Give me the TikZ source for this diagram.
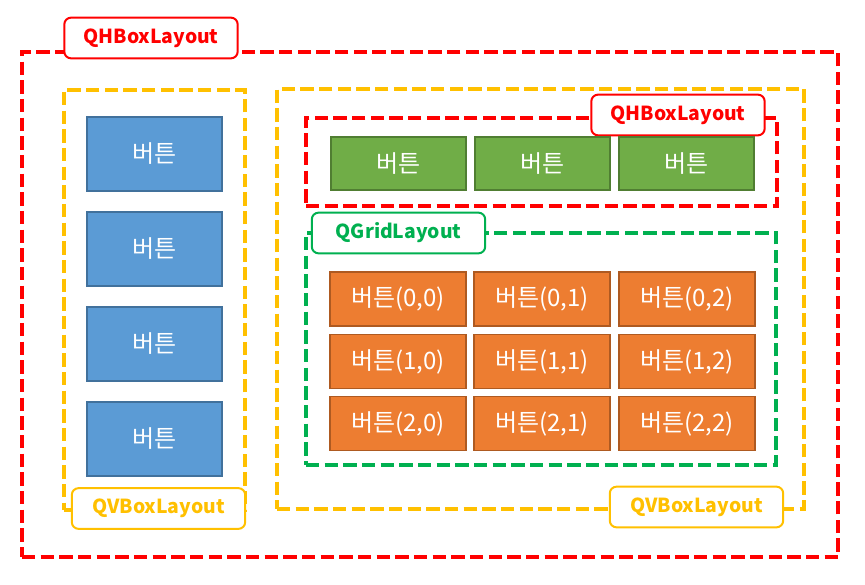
\documentclass[tikz,border=0pt]{standalone}
\usepackage{fontspec}
\setmainfont{Noto Sans CJK KR}
\begin{document}
\begin{tikzpicture}[x=0.75pt,y=-0.75pt,
  dashbox/.style={draw, line width=3.3pt, dash pattern=on 10pt off 4pt, inner sep=0pt},
  lbl/.style={draw, fill=white, line width=1.5pt, rounded corners=5pt, inner sep=0pt,
     minimum width=130pt, minimum height=30.5pt, font=\fontsize{14.5pt}{16pt}\selectfont\bfseries},
  btn/.style={draw, line width=1.2pt, inner sep=0pt, text=white, font=\fontsize{18pt}{20pt}\selectfont},
  bluebtn/.style={btn, fill=qblue, draw=qblueb, minimum width=101.25pt, minimum height=55.5pt},
  greenbtn/.style={btn, fill=qgreen, draw=qgreenb, minimum width=101.25pt, minimum height=39.75pt},
  orangebtn/.style={btn, fill=qorange, draw=qorangeb, minimum width=102pt, minimum height=40.5pt}]
\definecolor{qblue}{HTML}{5B9BD5}
\definecolor{qblueb}{HTML}{41719C}
\definecolor{qgreen}{HTML}{70AD47}
\definecolor{qgreenb}{HTML}{507E32}
\definecolor{qorange}{HTML}{ED7D31}
\definecolor{qorangeb}{HTML}{AE5A21}
\definecolor{qred}{HTML}{FF0000}
\definecolor{qyellow}{HTML}{FFC000}
\definecolor{qgreenl}{HTML}{00B050}
\useasboundingbox (0,0) rectangle (865,585);
% dashed layout frames
\node[dashbox, draw=qred, minimum width=612pt, minimum height=378.75pt] (outer) at (430,304.5) {};
\node[dashbox, draw=qyellow, minimum width=135.75pt, minimum height=315pt] (leftv) at (154.5,300) {};
\node[dashbox, draw=qyellow, minimum width=395.25pt, minimum height=315pt] (rightv) at (540.5,299) {};
\node[dashbox, draw=qred, minimum width=353.25pt, minimum height=66pt] (innerh) at (541.5,162) {};
\node[dashbox, draw=qgreenl, minimum width=352.5pt, minimum height=174pt] (grid) at (541,349) {};
% labels
\node[lbl, draw=qred, text=qred] (louter) at (151,38) {QHBoxLayout};
\node[lbl, draw=qyellow, text=qyellow] (lleftv) at (158.5,508.5) {QVBoxLayout};
\node[lbl, draw=qyellow, text=qyellow] (lrightv) at (696.5,507) {QVBoxLayout};
\node[lbl, draw=qred, text=qred] (linnerh) at (678,115) {QHBoxLayout};
\node[lbl, draw=qgreenl, text=qgreenl] (lgrid) at (398.5,233) {QGridLayout};
% blue buttons
\node[bluebtn] (b1) at (154.5,154) {버튼};
\node[bluebtn] (b2) at (154.5,249) {버튼};
\node[bluebtn] (b3) at (154.5,344) {버튼};
\node[bluebtn] (b4) at (154.5,439) {버튼};
% green buttons
\node[greenbtn] (g1) at (398.5,163.5) {버튼};
\node[greenbtn] (g2) at (542.5,163.5) {버튼};
\node[greenbtn] (g3) at (686.5,163.5) {버튼};
% orange grid
\node[orangebtn] (o00) at (398,299) {버튼(0,0)};
\node[orangebtn] (o01) at (542,299) {버튼(0,1)};
\node[orangebtn] (o02) at (687,299) {버튼(0,2)};
\node[orangebtn] (o10) at (398,361.5) {버튼(1,0)};
\node[orangebtn] (o11) at (542,361.5) {버튼(1,1)};
\node[orangebtn] (o12) at (687,361.5) {버튼(1,2)};
\node[orangebtn] (o20) at (398,423.5) {버튼(2,0)};
\node[orangebtn] (o21) at (542,423.5) {버튼(2,1)};
\node[orangebtn] (o22) at (687,423.5) {버튼(2,2)};
\end{tikzpicture}
\end{document}
